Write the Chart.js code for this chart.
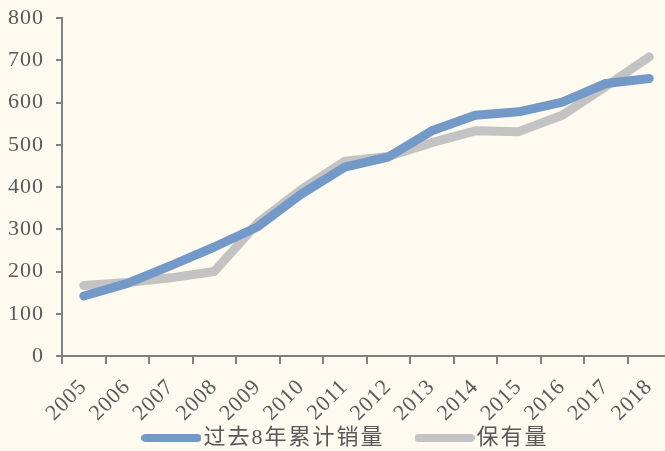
<!DOCTYPE html>
<html>
<head>
<meta charset="utf-8">
<script src="https://cdn.jsdelivr.net/npm/chart.js@4.4.1/dist/chart.umd.min.js"></script>
<style>
  html, body { margin: 0; padding: 0; background: #FEFAF0; overflow: hidden; }
  #wrap { width: 671px; height: 459px; position: relative; }
</style>
</head>
<body>
<div id="wrap"><canvas id="c"></canvas></div>
<script>
const categories = ['2005','2006','2007','2008','2009','2010','2011','2012','2013','2014','2015','2016','2017','2018'];
const cumulativeSales8y = [142, 172, 214, 258, 306, 383, 447, 471, 533, 570, 578, 601, 645, 657];
const vehicleStock = [167, 174, 185, 200, 315, 394, 461, 472, 505, 533, 531, 570, 638, 708];
const seriesNames = ['过去8年累计销量', '保有量'];

const FONT = "'Liberation Serif', 'Times New Roman', Tinos, 'Noto Sans CJK SC', serif";
const TEXT = '#595959';
const AXIS = '#808080';
const COLORS = ['#7399C8', '#C3C3C3'];

// legend swatch: a short thick rounded line
function makeSwatch(color) {
  const c = document.createElement('canvas');
  c.width = 60; c.height = 10;
  const g = c.getContext('2d');
  g.strokeStyle = color; g.lineWidth = 8; g.lineCap = 'round';
  g.beginPath(); g.moveTo(4, 5); g.lineTo(56, 5); g.stroke();
  return c;
}

const spacingPlugin = {
  id: 'spacing',
  beforeUpdate(chart) {
    chart.ctx.letterSpacing = '1px';
    const lg = chart.legend;
    if (lg && !lg._patched) {
      lg._patched = true;
      const origFit = lg.fit, origDraw = lg.draw;
      lg.fit = function () {
        const ctx = this.ctx, prev = ctx.letterSpacing;
        ctx.letterSpacing = '2px';
        const r = origFit.apply(this, arguments);
        ctx.letterSpacing = prev;
        return r;
      };
      lg.draw = function () {
        const ctx = this.ctx, prev = ctx.letterSpacing;
        ctx.save();
        ctx.translate(14, 0);
        ctx.letterSpacing = '2px';
        const r = origDraw.apply(this, arguments);
        ctx.restore();
        ctx.letterSpacing = prev;
        return r;
      };
    }
  },
  beforeLayout(chart) { chart.ctx.letterSpacing = '1px'; },
  beforeDraw(chart) { chart.ctx.letterSpacing = '1px'; }
};

new Chart(document.getElementById('c'), {
  type: 'line',
  data: {
    labels: categories,
    datasets: [
      { label: seriesNames[0], data: cumulativeSales8y, borderColor: COLORS[0], backgroundColor: COLORS[0],
        borderWidth: 9, pointRadius: 0, borderCapStyle: 'round', borderJoinStyle: 'round', tension: 0 },
      { label: seriesNames[1], data: vehicleStock, borderColor: COLORS[1], backgroundColor: COLORS[1],
        borderWidth: 9, pointRadius: 0, borderCapStyle: 'round', borderJoinStyle: 'round', tension: 0 }
    ]
  },
  options: {
    responsive: true,
    maintainAspectRatio: false,
    animation: false,
    layout: { padding: { top: 18, left: 0, right: 0, bottom: 0 } },
    plugins: {
      tooltip: { enabled: false },
      legend: {
        position: 'bottom',
        labels: {
          usePointStyle: true,
          pointStyleWidth: 42,
          color: TEXT,
          font: { family: FONT, size: 22 },
          padding: 39,
          generateLabels(chart) {
            const items = Chart.defaults.plugins.legend.labels.generateLabels(chart);
            items.forEach(it => { it.pointStyle = makeSwatch(chart.data.datasets[it.datasetIndex].borderColor); });
            return items;
          }
        }
      }
    },
    scales: {
      x: {
        offset: true,
        grid: { drawOnChartArea: false, drawTicks: true, tickLength: 8, color: AXIS, lineWidth: 2, offset: true },
        border: { display: true, color: AXIS, width: 2 },
        ticks: { color: TEXT, font: { family: FONT, size: 22 }, maxRotation: 45, minRotation: 45, autoSkip: false, padding: 10 },
        afterFit(s) {
          s.height = 32; s.paddingLeft = 0; s.paddingRight = 0;
          s._computeLabelArea = () => undefined;
        }
      },
      y: {
        min: 0, max: 800,
        grid: { drawOnChartArea: false, drawTicks: true, tickLength: 6, color: AXIS, lineWidth: 2 },
        border: { display: true, color: AXIS, width: 2 },
        ticks: { stepSize: 100, color: TEXT, font: { family: FONT, size: 22 }, padding: 12 },
        afterFit(s) { s.width = 62; s.paddingTop = 0; s.paddingBottom = 0; }
      }
    }
  },
  plugins: [spacingPlugin]
});
</script>
</body>
</html>
